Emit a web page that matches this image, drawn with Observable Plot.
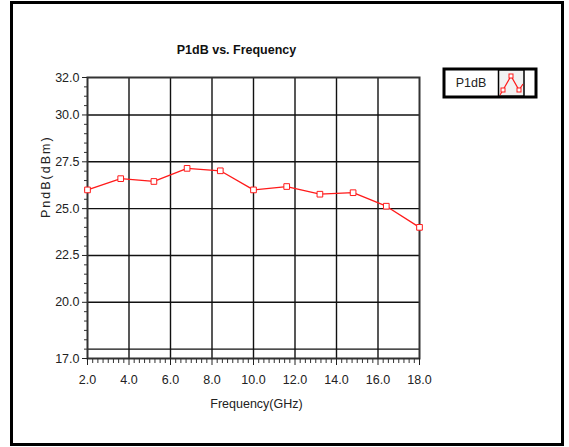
<!DOCTYPE html>
<html><head><meta charset="utf-8">
<script src="https://cdn.jsdelivr.net/npm/d3@7"></script>
<script src="https://cdn.jsdelivr.net/npm/@observablehq/plot@0.6"></script>
<style>
body{margin:0;background:#fff;}
#wrap{position:relative;width:569px;height:447px;overflow:hidden;background:#fff;}
#wrap svg{position:absolute;left:0;top:0;}
#overlay{pointer-events:none;}
</style></head><body><div id="wrap"></div>
<script>
const titleText = "P1dB vs. Frequency";
const xLabel = "Frequency(GHz)";
const yLabel = "PndB(dBm)";
const seriesName = "P1dB";
const freqs = [2.0, 3.6, 5.2, 6.8, 8.4, 10.0, 11.6, 13.2, 14.8, 16.4, 18.0];
const p1db = [26.0, 26.6, 26.45, 27.15, 27.02, 26.0, 26.18, 25.77, 25.85, 25.13, 24.0];
const xTicks = [2, 4, 6, 8, 10, 12, 14, 16, 18];
const yTicks = [17, 20, 22.5, 25, 27.5, 30, 32];
const xGrid = [4, 6, 8, 10, 12, 14, 16];
const yGrid = [17.5, 20, 22.5, 25, 27.5, 30];
const xMinor = d3.range(2, 18.001, 0.25).filter(v => v % 2 !== 0);
const yMinor = d3.range(17, 32.001, 0.5).filter(v => !yTicks.includes(v));

const data = freqs.map((f, i) => ({f, v: p1db[i]}));
const font = "'Liberation Sans',Arial,sans-serif";
const red = "#ff1a1a";
const fmt = d3.format(".1f");

const chart = Plot.plot({
  width: 569, height: 447,
  marginLeft: 87, marginRight: 150, marginTop: 77, marginBottom: 89,
  style: {fontFamily: font, fontSize: "12.5px", color: "#222", background: "transparent", overflow: "visible"},
  x: {domain: [2, 18]},
  y: {domain: [17, 32]},
  marks: [
    Plot.gridX(xGrid, {stroke: "#111", strokeOpacity: 1, strokeWidth: 1.4}),
    Plot.gridY(yGrid, {stroke: "#111", strokeOpacity: 1, strokeWidth: 1.4}),
    Plot.frame({stroke: "#333", strokeWidth: 2}),
    Plot.axisX(xMinor, {tickSize: 5, tickFormat: () => "", label: null, stroke: "#333"}),
    Plot.axisX(xTicks, {tickSize: 7, tickPadding: 10, tickFormat: fmt, label: null, stroke: "#222"}),
    Plot.axisY(yMinor, {tickSize: 3, tickFormat: () => "", label: null, stroke: "#333"}),
    Plot.axisY(yTicks, {tickSize: 5, tickPadding: 3, tickFormat: fmt, label: null, stroke: "#222"}),
    Plot.line(data, {x: "f", y: "v", stroke: red, strokeWidth: 1.3}),
    Plot.dot(data, {x: "f", y: "v", symbol: "square", r: 3.2, stroke: red, strokeWidth: 1, fill: "white"}),
    Plot.text([titleText], {text: d => d, frameAnchor: "top", lineAnchor: "middle", dx: -17, dy: -28, fontWeight: "bold", fontSize: 12.5, fill: "#111"}),
    Plot.text([yLabel], {text: d => d, frameAnchor: "left", lineAnchor: "middle", dx: -42, rotate: -90, fontSize: 12.5, fill: "#222"}),
    Plot.text([xLabel], {text: d => d, frameAnchor: "bottom", lineAnchor: "middle", dx: 3, dy: 45, fontSize: 12.5, fill: "#222"})
  ]
});
d3.select(chart).selectAll("text").filter(function() { return this.textContent === yLabel; })
  .style("letter-spacing", "2px");
document.getElementById("wrap").appendChild(chart);

// decorative frame and legend box
const ov = d3.select("#wrap").append("svg").attr("id", "overlay")
  .attr("width", 569).attr("height", 447);
ov.append("rect").attr("x", 11.5).attr("y", 2.5).attr("width", 551).attr("height", 442)
  .attr("fill", "none").attr("stroke", "#000").attr("stroke-width", 3);
const lg = ov.append("g");
lg.append("rect").attr("x", 444).attr("y", 69).attr("width", 92).attr("height", 28)
  .attr("fill", "#fff").attr("stroke", "#000").attr("stroke-width", 3);
lg.append("rect").attr("x", 498.5).attr("y", 70).attr("width", 25.5).attr("height", 26)
  .attr("fill", "#f2f2f2").attr("stroke", "#000").attr("stroke-width", 1.5);
lg.append("text").attr("x", 471).attr("y", 83).attr("dy", "0.35em").attr("text-anchor", "middle")
  .attr("font-family", font).attr("font-size", 12.5).attr("fill", "#222").text(seriesName);
const icon = [[500, 95], [503, 90], [511, 76], [519, 90], [523, 84]];
lg.append("polyline").attr("points", icon.map(p => p.join(",")).join(" "))
  .attr("fill", "none").attr("stroke", red).attr("stroke-width", 1.2);
icon.slice(1, 4).forEach(p => lg.append("rect").attr("x", p[0] - 2).attr("y", p[1] - 2)
  .attr("width", 4).attr("height", 4).attr("fill", "white").attr("stroke", red).attr("stroke-width", 1));
</script></body></html>
